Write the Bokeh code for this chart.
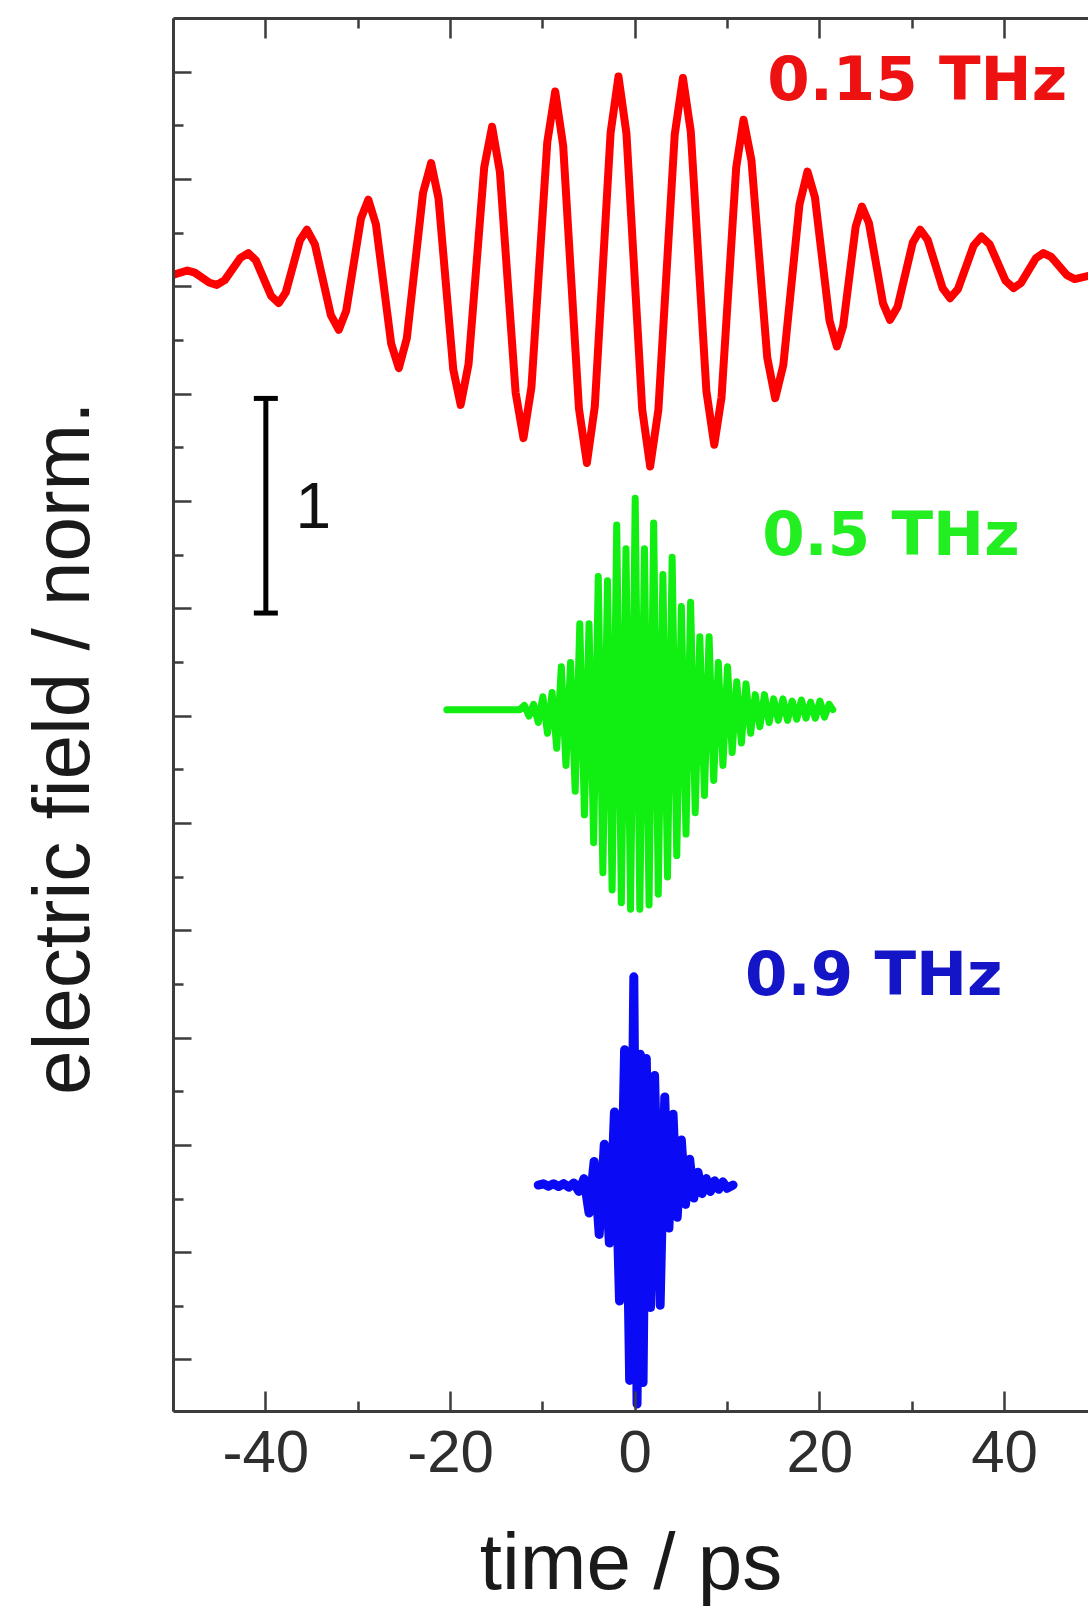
from bokeh.plotting import figure
from bokeh.models import FixedTicker, LinearAxis, Range1d, CustomJSTickFormatter
from bokeh.core.properties import value
from bokeh.embed import file_html
from bokeh.resources import INLINE

# ---------------- data ----------------
# 0.15 THz trace (time in ps, field in normalised units)
red_t = [-50.0, -48.5, -47.7, -46.1, -45.3, -44.45, -42.75, -41.9, -41.08, -39.43,
         -38.6, -37.84, -36.31, -35.55, -34.69, -32.96, -32.1, -31.3, -29.7, -28.9,
         -28.08, -26.43, -25.6, -24.73, -22.98, -22.1, -21.3, -19.7, -18.9, -18.05,
         -16.35, -15.5, -14.65, -12.95, -12.1, -11.24, -9.52, -8.66, -7.8, -6.09,
         -5.23, -4.375, -2.665, -1.81, -0.95, 0.76, 1.62, 2.51, 4.28, 5.17,
         6.02, 7.71, 8.56, 9.35, 10.94, 11.73, 12.59, 14.3, 15.16, 16.04,
         17.79, 18.66, 19.46, 21.05, 21.84, 22.52, 23.87, 24.55, 25.31, 26.84,
         27.6, 28.42, 30.05, 30.86, 31.67, 33.29, 34.1, 34.95, 36.65, 37.5,
         38.37, 40.1, 40.97, 41.78, 43.39, 44.2, 45.05, 46.75, 47.6, 49.1]
red_E = [0.0, 0.02, 0.01, -0.037, -0.047, -0.025, 0.079, 0.101, 0.067, -0.098,
         -0.132, -0.082, 0.16, 0.21, 0.142, -0.188, -0.256, -0.168, 0.262, 0.35,
         0.235, -0.32, -0.435, -0.296, 0.381, 0.52, 0.356, -0.442, -0.606, -0.417,
         0.501, 0.69, 0.478, -0.549, -0.761, -0.525, 0.618, 0.854, 0.601, -0.624,
         -0.877, -0.614, 0.661, 0.924, 0.659, -0.628, -0.893, -0.629, 0.653, 0.917,
         0.667, -0.542, -0.792, -0.571, 0.501, 0.722, 0.533, -0.386, -0.575, -0.421,
         0.327, 0.481, 0.362, -0.215, -0.334, -0.239, 0.223, 0.318, 0.241, -0.133,
         -0.21, -0.149, 0.149, 0.21, 0.163, -0.062, -0.109, -0.067, 0.136, 0.178,
         0.143, -0.027, -0.062, -0.038, 0.077, 0.101, 0.083, -0.002, -0.02, -0.005]

# 0.5 THz trace
green_t = [-20.4, -12.5, -12.0, -11.5, -11.0, -10.5, -10.0, -9.5, -9.0, -8.5,
           -8.0, -7.5, -7.0, -6.5, -6.0, -5.5, -5.0, -4.5, -4.0, -3.5,
           -3.0, -2.5, -2.0, -1.5, -1.0, -0.5, 0.0, 0.5, 1.0, 1.5,
           2.0, 2.5, 3.0, 3.5, 4.0, 4.5, 5.0, 5.5, 6.0, 6.5,
           7.0, 7.5, 8.0, 8.5, 9.0, 9.5, 10.0, 10.5, 11.0, 11.5,
           12.0, 12.5, 13.0, 13.5, 14.0, 14.5, 15.0, 15.5, 16.0, 16.5,
           17.0, 17.5, 18.0, 18.5, 19.0, 19.5, 20.0, 20.5, 21.0, 21.4]
green_E = [0.0, 0.0, 0.02, -0.03, 0.025, -0.06, 0.06, -0.11, 0.08, -0.18,
           0.2, -0.26, 0.22, -0.38, 0.4, -0.49, 0.4, -0.62, 0.62, -0.76,
           0.6, -0.84, 0.86, -0.9, 0.75, -0.93, 0.985, -0.93, 0.75, -0.91,
           0.87, -0.86, 0.63, -0.78, 0.71, -0.68, 0.48, -0.58, 0.5, -0.48,
           0.34, -0.4, 0.34, -0.33, 0.22, -0.26, 0.2, -0.2, 0.13, -0.155,
           0.12, -0.11, 0.07, -0.08, 0.07, -0.06, 0.05, -0.05, 0.05, -0.05,
           0.04, -0.045, 0.045, -0.04, 0.035, -0.04, 0.04, -0.035, 0.025, 0.0]

# 0.9 THz trace
blue_t = [-10.5, -9.95, -9.4, -8.85, -8.3, -7.75, -7.2, -6.65, -6.1, -5.55,
          -5.0, -4.45, -3.9, -3.35, -2.8, -2.25, -1.7, -1.15, -0.6, -0.15,
          0.2, 0.55, 0.85, 1.2, 1.65, 2.1, 2.7, 3.2, 3.65, 4.1,
          4.55, 5.0, 5.45, 5.9, 6.35, 6.8, 7.25, 7.7, 8.15, 8.6,
          9.05, 9.5, 9.95, 10.6]
blue_E = [0.0, 0.006, -0.006, 0.006, -0.007, 0.007, -0.01, 0.01, -0.03, 0.03,
          -0.13, 0.11, -0.23, 0.19, -0.27, 0.34, -0.54, 0.63, -0.91, 0.97,
          -1.02, 0.61, -0.92, 0.59, -0.57, 0.51, -0.56, 0.41, -0.2, 0.33,
          -0.15, 0.21, -0.09, 0.12, -0.06, 0.06, -0.04, 0.03, -0.03, 0.02,
          -0.02, 0.015, -0.015, 0.0]

# vertical offsets of the stacked traces
trace_offsets = [5.056, 3.03, 0.815]
trace_labels = ["0.15 THz", "0.5 THz", "0.9 THz"]
label_t = [14.3, 13.75, 11.9]
label_y = [5.969, 3.849, 1.80]

# scale bar: one unit of field
scalebar_t = -40.0
scalebar_y0 = 3.48
scalebar_size = 1.0
scalebar_text = "1"

x_major = [-40, -20, 0, 20, 40]
x_minor = [-50, -30, -10, 10, 30, 50]
y_major = [0.0, 0.5, 1.0, 1.5, 2.0, 2.5, 3.0, 3.5, 4.0, 4.5, 5.0, 5.5, 6.0]
y_minor = [0.25, 0.75, 1.25, 1.75, 2.25, 2.75, 3.25, 3.75, 4.25, 4.75, 5.25, 5.75]

# ---------------- styling ----------------
RED_LINE, GREEN_LINE, BLUE_LINE = "#ff0000", "#11ee11", "#0a0af5"
RED_TXT, GREEN_TXT, BLUE_TXT = "#ee1111", "#22ee22", "#1515c8"
AXIS = "#3c3c3c"
FONT = "Liberation Sans"

p = figure(width=1088, height=1615,
           x_range=Range1d(-50, 49.09), y_range=Range1d(-0.24, 6.25),
           output_backend="svg", toolbar_location=None,
           min_border_left=173, min_border_right=0,
           min_border_top=18, min_border_bottom=204)
p.outline_line_color = None
p.xgrid.visible = False
p.ygrid.visible = False
p.background_fill_color = "white"
p.border_fill_color = "white"

xt = FixedTicker(ticks=x_major, minor_ticks=x_minor)
yt = FixedTicker(ticks=y_major, minor_ticks=y_minor)

def style_axis(ax, major_len, minor_len):
    ax.axis_line_color = AXIS
    ax.axis_line_width = 3
    ax.major_tick_line_color = AXIS
    ax.minor_tick_line_color = AXIS
    ax.major_tick_line_width = 2.5
    ax.minor_tick_line_width = 2.5
    ax.major_tick_in = major_len
    ax.major_tick_out = 0
    ax.minor_tick_in = minor_len
    ax.minor_tick_out = 0

blank = CustomJSTickFormatter(code="return '';")

xa = p.xaxis[0]
xa.ticker = xt
style_axis(xa, 20, 10)
xa.formatter = CustomJSTickFormatter(code="return tick.toFixed(0);")
xa.major_label_text_font = FONT
xa.major_label_text_font_size = "60px"
xa.major_label_text_color = "#2e2e2e"
xa.major_label_standoff = 19
xa.axis_label = "time / ps"
xa.axis_label_text_font = FONT
xa.axis_label_text_font_size = "80px"
xa.axis_label_text_font_style = "normal"
xa.axis_label_text_color = "#1a1a1a"
xa.axis_label_standoff = 42

ya = p.yaxis[0]
ya.ticker = yt
style_axis(ya, 18, 10)
ya.formatter = blank
ya.major_label_standoff = 0
ya.axis_label = "electric field / norm.\u00a0\u00a0\u00a0"
ya.axis_label_text_font = FONT
ya.axis_label_text_font_size = "80px"
ya.axis_label_text_font_style = "normal"
ya.axis_label_text_color = "#1a1a1a"
ya.axis_label_standoff = 68

top = LinearAxis(ticker=xt, formatter=blank, major_label_standoff=0)
style_axis(top, 20, 10)
p.add_layout(top, "above")

# traces
series = [(red_t, red_E, RED_LINE, 8), (green_t, green_E, GREEN_LINE, 7),
          (blue_t, blue_E, BLUE_LINE, 9)]
for (t, e, col, w), off in zip(series, trace_offsets):
    n = min(len(t), len(e))
    p.line(x=t[:n], y=[v + off for v in e[:n]], line_color=col, line_width=w,
           line_join="round", line_cap="round")

# labels
for txt, tx, ty, col in zip(trace_labels, label_t, label_y, [RED_TXT, GREEN_TXT, BLUE_TXT]):
    p.text(x=[tx], y=[ty], text=[txt], text_font=value("DejaVu Sans"),
           text_font_style="bold", text_font_size="61px", text_color=col,
           text_align="left", text_baseline="alphabetic")

# scale bar
CAP = 1.3
sb_y1 = scalebar_y0 + scalebar_size
p.segment(x0=[scalebar_t], y0=[scalebar_y0], x1=[scalebar_t], y1=[sb_y1],
          line_color="black", line_width=5)
p.segment(x0=[scalebar_t - CAP] * 2, y0=[scalebar_y0, sb_y1],
          x1=[scalebar_t + CAP] * 2, y1=[scalebar_y0, sb_y1],
          line_color="black", line_width=5)
p.text(x=[scalebar_t + 3.2], y=[scalebar_y0 + scalebar_size / 2], text=[scalebar_text],
       text_font=value(FONT), text_font_size="64px", text_color="#111111",
       text_align="left", text_baseline="middle")

open("out.html", "w").write(file_html(p, INLINE))
